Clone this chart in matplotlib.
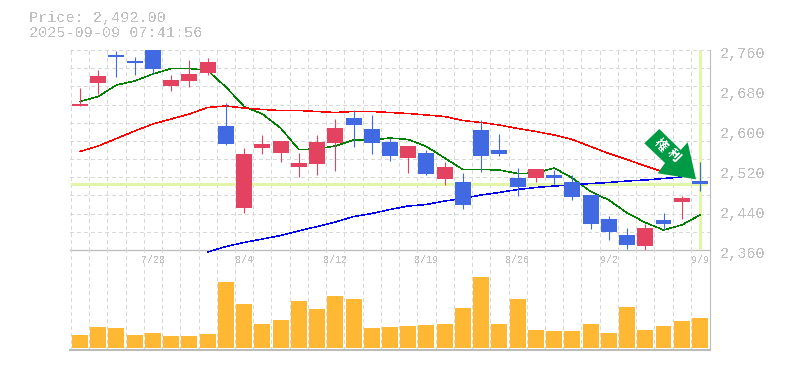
import matplotlib
matplotlib.use("Agg")
import matplotlib.pyplot as plt
import numpy as np
from matplotlib.patches import Polygon

# Datos
price_text = "Price: 2,492.00"
time_text = "2025-09-09 07:41:56"

opens = [2648, 2695, 2750, 2738, 2768, 2688, 2698, 2714, 2608, 2444, 2564, 2554,
         2526, 2532, 2574, 2624, 2602, 2576, 2544, 2554, 2502, 2496, 2600, 2560,
         2504, 2504, 2510, 2496, 2470, 2422, 2390, 2368, 2420, 2456, 2498]
closes = [2652, 2708, 2746, 2734, 2722, 2700, 2712, 2736, 2572, 2552, 2572, 2578,
          2534, 2576, 2604, 2610, 2574, 2548, 2568, 2512, 2526, 2450, 2548, 2552,
          2486, 2522, 2504, 2466, 2412, 2396, 2370, 2404, 2412, 2464, 2492]
highs = [2684, 2720, 2758, 2746, 2775, 2710, 2740, 2744, 2654, 2564, 2590, 2578,
         2554, 2590, 2622, 2640, 2630, 2584, 2568, 2560, 2536, 2514, 2620, 2592,
         2524, 2522, 2520, 2510, 2470, 2428, 2404, 2412, 2434, 2468, 2536]
lows = [2648, 2672, 2707, 2710, 2712, 2678, 2686, 2710, 2570, 2434, 2552, 2536,
        2506, 2510, 2518, 2566, 2552, 2538, 2514, 2510, 2490, 2442, 2516, 2548,
        2468, 2496, 2492, 2460, 2402, 2380, 2362, 2360, 2400, 2422, 2478]
volumes = [13, 21, 20, 13, 15, 12, 12, 14, 66, 44, 24, 28, 47, 39, 52, 49, 20, 21,
           22, 23, 24, 40, 71, 24, 49, 18, 17, 17, 24, 15, 41, 18, 22, 27, 30]

ma_green = [2657, 2667, 2690, 2698, 2712, 2723, 2723, 2719, 2686, 2647, 2632, 2604,
            2561, 2562, 2568, 2580, 2580, 2584, 2581, 2567, 2544, 2521, 2521, 2520,
            2513, 2514, 2524, 2504, 2477, 2460, 2434, 2415, 2400, 2410, 2430]
ma_red = [2557, 2568, 2583, 2598, 2612, 2622, 2632, 2645, 2648, 2644, 2641, 2639,
          2639, 2637, 2635, 2637, 2637, 2635, 2633, 2630, 2627, 2619, 2615, 2610,
          2603, 2597, 2590, 2581, 2567, 2553, 2541, 2528, 2516]
ma_blue = [2356, 2367, 2375, 2382, 2389, 2398, 2407, 2416, 2427, 2433, 2441, 2448,
           2451, 2458, 2463, 2470, 2475, 2481, 2485, 2488, 2490, 2493, 2495, 2498,
           2500, 2503, 2506]
ma_blue_start = 7

last_price = 2492
price_ticks = [2360, 2440, 2520, 2600, 2680, 2760]
price_labels = ["2,360", "2,440", "2,520", "2,600", "2,680", "2,760"]
date_pos = [4, 9, 14, 19, 24, 29, 34]
date_labels = ["7/28", "8/4", "8/12", "8/19", "8/26", "9/2", "9/9"]

UP = "#e34361"
DOWN = "#4169e1"
HIGHLIGHT = "#e2f5a8"
VOL = "#ffb833"
GRID = "#d8d8d8"
AXIS = "#bbbbbb"
TEXT = "#c0c0c0"
MONO = "Liberation Mono"

plt.rcParams["text.antialiased"] = False

W, H = 785, 370
fig = plt.figure(figsize=(W / 100, H / 100), dpi=100, facecolor="white")
ax = fig.add_axes([70 / W, 1 - 250 / H, 640 / W, 200 / H])
ax_vol = fig.add_axes([70 / W, 1 - 350 / H, 640 / W, 100 / H])

n = len(opens)
xs = np.arange(n)
grid_x = np.arange(n) - 0.5
dash = (0, (3, 3))

for a in (ax, ax_vol):
    a.set_xlim(-0.548, n - 0.45)
    a.set_xticks([])
    a.set_yticks([])
    a.patch.set_alpha(0)
    for s in ("top", "left"):
        a.spines[s].set_visible(False)
    for s in ("right", "bottom"):
        a.spines[s].set_color(AXIS)
    a.vlines(grid_x, 0, 1, transform=a.get_xaxis_transform(), color=GRID,
             lw=0.72, linestyles=dash, antialiased=False, zorder=1)

ax.set_ylim(2360, 2760)
ax_vol.set_ylim(-2, 98)
ax.spines["bottom"].set_linewidth(0.9)
ax_vol.spines["bottom"].set_linewidth(1.5)

# Rejilla horizontal
ax.hlines(np.linspace(2360, 2760, 12)[1:], -0.548, n - 0.45, color=GRID, lw=0.72,
          linestyles=dash, antialiased=False, zorder=1)

# Lineas de precio actual
ax.hlines(last_price, -0.548, n - 0.6, color=HIGHLIGHT, lw=2.2, zorder=2)
ax.vlines(n - 1, 2362, 2760, color=HIGHLIGHT, lw=2.2, zorder=2)

# Medias moviles
ax.plot(xs, ma_green, color="#008000", lw=0.35, antialiased=False, zorder=3)
ax.plot(xs[:len(ma_red)], ma_red, color="#ff0000", lw=0.35, antialiased=False, zorder=3)
ax.plot(xs[ma_blue_start:ma_blue_start + len(ma_blue)], ma_blue, color="#0000ee",
        lw=0.35, antialiased=False, zorder=3, clip_on=False)

# Velas
colors = [UP if c >= o else DOWN for o, c in zip(opens, closes)]
ax.vlines(xs, lows, highs, color=colors, lw=0.8, zorder=4)
bottoms = np.minimum(opens, closes)
heights = np.abs(np.array(closes) - np.array(opens))
ax.bar(xs, heights, width=0.877, bottom=bottoms, color=colors, linewidth=0, zorder=5)

# Volumen
ax_vol.bar(xs, volumes, width=0.877, color=VOL, linewidth=0, zorder=3)

# Etiquetas de precio
for p, label in zip(price_ticks, price_labels):
    ax.annotate(label, xy=(1, p), xycoords=ax.get_yaxis_transform(), xytext=(7.2, -2.9),
                textcoords="offset points", ha="left", va="center", color=TEXT,
                fontsize=10.9, family=MONO, annotation_clip=False)

# Etiquetas de fecha
for pos, label in zip(date_pos, date_labels):
    ax_vol.annotate(label, xy=(pos, 0.9), xycoords=ax_vol.get_xaxis_transform(),
                    ha="center", va="center", color=TEXT, fontsize=7.2, family=MONO,
                    annotation_clip=False)

fig.text(29 / W, 1 - 18 / H, price_text, color=TEXT, fontsize=10.9, family=MONO, va="center")
fig.text(29 / W, 1 - 33 / H, time_text, color=TEXT, fontsize=10.9, family=MONO, va="center")

# Flecha
arrow_px = [(659.3, 129), (644.3, 143.3), (665, 163), (657.7, 173.3), (696, 179.3),
            (687.7, 142.3), (680.7, 150)]
arrow = Polygon([(x / W, 1 - y / H) for x, y in arrow_px], closed=True,
                transform=fig.transFigure, facecolor="#009944", edgecolor="none", zorder=10)
fig.add_artist(arrow)
for (px, py), ch in zip([(660, 145), (673.3, 155.7)], ["権", "利"]):
    fig.text(px / W, 1 - py / H, ch, color="white", fontsize=9, rotation=-45,
             rotation_mode="anchor", ha="center", va="center", weight="bold",
             family="Noto Sans CJK JP", zorder=11)

fig.savefig("out.png", dpi=100, facecolor="white")
